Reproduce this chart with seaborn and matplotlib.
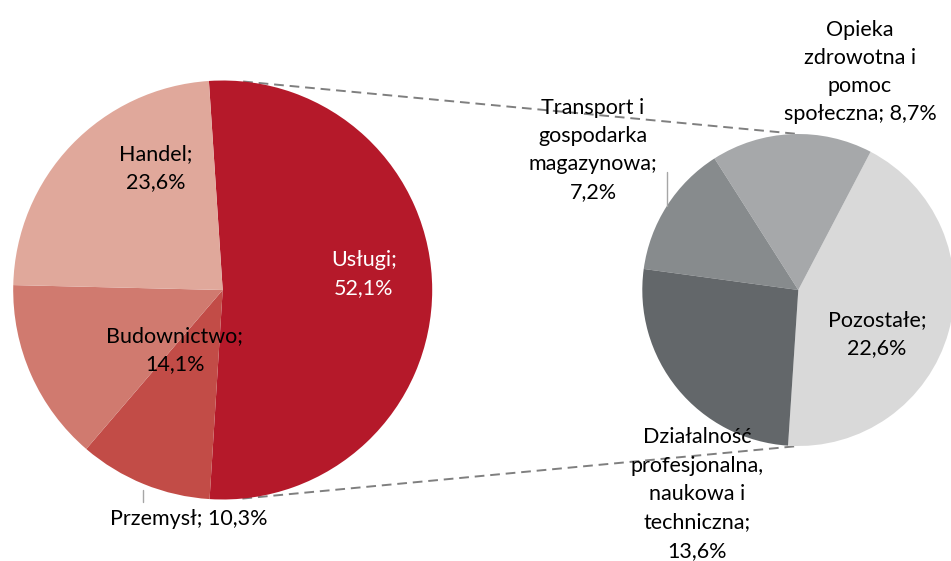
import numpy as np
import matplotlib.pyplot as plt
import seaborn as sns

# ============================
# DANE
# ============================
sektory = ["Usługi", "Przemysł", "Budownictwo", "Handel"]
udzialy = [52.1, 10.3, 14.1, 23.6]
kolory_sektory = ["#b5192a", "#c24c47", "#d07a6f", "#e0a89b"]

uslugi = ["Pozostałe", "Opieka zdrowotna i pomoc społeczna",
          "Transport i gospodarka magazynowa",
          "Działalność profesjonalna, naukowa i techniczna"]
uslugi_udzialy = [22.6, 8.7, 7.2, 13.6]
kolory_uslugi = ["#d9d9d9", "#a6a8aa", "#878b8d", "#63676a"]

etykiety_sektory = ["Usługi;\n52,1%", "Przemysł; 10,3%", "Budownictwo;\n14,1%", "Handel;\n23,6%"]
etykiety_uslugi = ["Pozostałe;\n22,6%", "Opieka\nzdrowotna i\npomoc\nspołeczna; 8,7%",
                   "Transport i\ngospodarka\nmagazynowa;\n7,2%",
                   "Działalność\nprofesjonalna,\nnaukowa i\ntechniczna;\n13,6%"]

# ============================
# UKŁAD (piksele, y w górę)
# ============================
W, H = 951, 561
c1, r1 = (222.7, H - 290), 209.5
c2, r2 = (798.3, H - 290), 156

sns.set_theme(style="white")
plt.rcParams['font.family'] = ['Lato', 'DejaVu Sans']

fig = plt.figure(figsize=(9.51, 5.61), dpi=100)
ax = fig.add_axes([0, 0, 1, 1])

# lewy wykres: usługi wycentrowane na prawo
start1 = 360 * udzialy[0] / 100 / 2
ax.pie(udzialy, colors=kolory_sektory, startangle=start1, counterclock=False,
       center=c1, radius=r1, wedgeprops=dict(linewidth=0))
# prawy wykres: zaczyna się od dolnej krawędzi usług
start2 = -start1
ax.pie(uslugi_udzialy, colors=kolory_uslugi, startangle=start2, counterclock=True,
       center=c2, radius=r2, wedgeprops=dict(linewidth=0))

# linie łączące
def pt(c, r, ang):
    a = np.deg2rad(ang)
    return c[0] + r * np.cos(a), c[1] + r * np.sin(a)

for a1, a2 in [(84.4, 90), (-84.6, -90)]:
    p1, p2 = pt(c1, r1, a1), pt(c2, r2, a2)
    ax.plot([p1[0], p2[0]], [p1[1], p2[1]], ls=(0, (5, 3)), color="#7f7f7f", lw=1.4, zorder=0)

# linie prowadzące
kat = start1 - 360 * (udzialy[0] + udzialy[1] / 2) / 100
p = pt(c1, r1, kat)
ax.plot([p[0], p[0]], [H - 490, H - 502], color="#a6a6a6", lw=1)
suma = sum(uslugi_udzialy)
kat = start2 + 360 * (uslugi_udzialy[0] + uslugi_udzialy[1] + uslugi_udzialy[2] / 2) / suma
p = pt(c2, r2, kat)
ax.plot([p[0], p[0]], [p[1], H - 172], color="#a6a6a6", lw=1)

fs = 15.5
ls = 1.52
poz_sektory = [(364, 274), (189, 519), (175, 350), (156, 168)]
for txt, (x, y), kol in zip(etykiety_sektory, poz_sektory, ["white", "black", "black", "black"]):
    ax.text(x, H - y, txt, ha="center", va="center", fontsize=fs, color=kol,
            linespacing=ls, multialignment="center")

poz_uslugi = [(877, 334), (860, 72), (593, 150), (697, 494)]
for txt, (x, y) in zip(etykiety_uslugi, poz_uslugi):
    ax.text(x, H - y, txt, ha="center", va="center", fontsize=fs, color="black",
            linespacing=ls, multialignment="center")

ax.set_xlim(0, W)
ax.set_ylim(0, H)
ax.set_aspect("equal")
ax.axis("off")

fig.savefig("out.png", dpi=100)
